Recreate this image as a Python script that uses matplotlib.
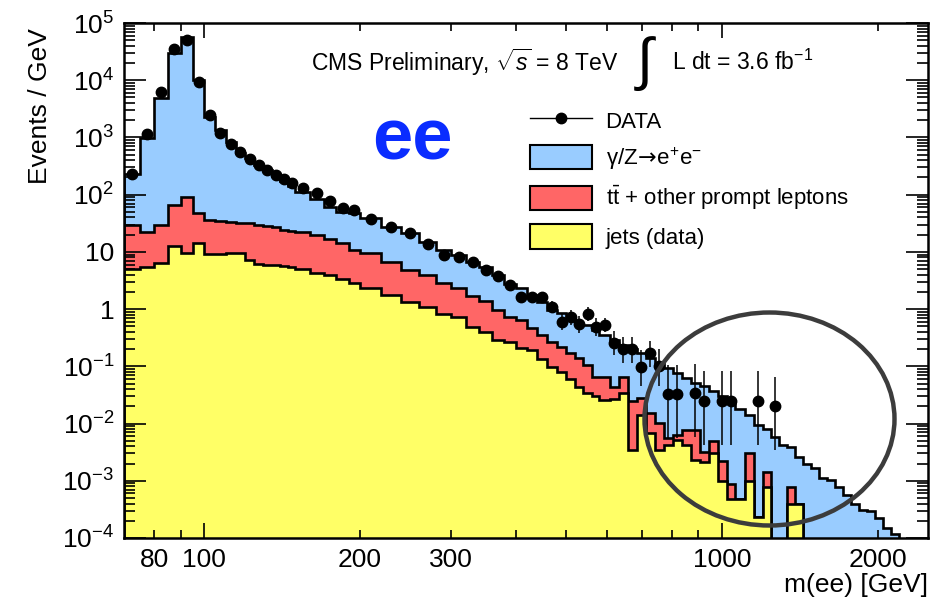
import matplotlib

matplotlib.use("Agg")
import matplotlib.pyplot as plt
import numpy as np
from matplotlib.lines import Line2D
from matplotlib.patches import Ellipse, Patch
from matplotlib.ticker import FixedLocator, FuncFormatter, LogLocator, NullFormatter

plt.rcParams["font.family"] = ["Liberation Sans", "DejaVu Sans"]
plt.rcParams["mathtext.fontset"] = "custom"
plt.rcParams["mathtext.rm"] = "Liberation Sans"
plt.rcParams["mathtext.it"] = "Liberation Sans:italic"
plt.rcParams["mathtext.bf"] = "Liberation Sans:bold"
plt.rcParams["mathtext.sf"] = "DejaVu Sans"

# bin edges, GeV
edges = [70, 75, 80, 85, 90, 95, 100, 105, 110, 115, 120, 125, 130, 135, 140, 145, 150,
         160, 170, 180, 190, 200,
         220, 240, 260, 280, 300, 320, 340, 360, 380, 400, 420, 440, 460, 480, 500,
         520, 540, 560, 580,
         608, 632, 658, 685, 713, 742, 772, 804, 836, 870, 906, 943, 981, 1021, 1062,
         1106, 1151, 1198, 1246, 1291, 1337, 1385, 1435, 1487, 1540, 1596, 1653, 1713,
         1774, 1838, 1904, 1973, 2044, 2117, 2193, 2272, 2354, 2439, 2527]

# stack tops in events/GeV: jets, jets + ttbar, jets + ttbar + DY
jets = [5.1, 5.5, 6.3, 12.5, 9.4, 14.4, 9.2, 9.2, 9.4, 9.6, 7.2, 6.2, 6.0, 5.8, 5.6, 5.4,
        5.0, 4.2, 4.0, 3.3, 2.9,
        2.3, 1.76, 1.34, 1.1, 0.82, 0.73, 0.49, 0.40, 0.287, 0.27, 0.206, 0.19, 0.137, 0.098,
        0.080, 0.061, 0.044, 0.034, 0.030,
        0.026, 0.027, 0.034, 0.0034, 0.014, 0.0069, 0.0034, 0.0043, 0.0051, 0.0043, 0.0023,
        0.0021, 0.0031, 0.0010, 0.00048, 0.00048, 0.001, 0.00023, 0.00078, 0, 0, 0.0004,
        0.0004, 0, 0, 0, 0, 0, 0, 0, 0, 0, 0, 0, 0, 0, 0, 0, 0]
jets_tt = [29.5, 22.3, 29.5, 66, 92, 48, 36, 34, 33, 32.5, 31.6, 29.5, 28, 27, 24.5, 23.5,
           22, 19.5, 17, 14.5, 11,
           9.4, 6.7, 4.9, 3.9, 2.9, 2.3, 1.69, 1.38, 0.96, 0.72, 0.65, 0.46, 0.35, 0.27,
           0.22, 0.168, 0.138, 0.105, 0.066,
           0.066, 0.044, 0.066, 0.025, 0.028, 0.0152, 0.0103, 0.0055, 0.0063, 0.0076, 0.0077,
           0.0032, 0.0049, 0.0022, 0.00088, 0.00048, 0.0031, 0.00023, 0.0014, 0, 0, 0.00078,
           0.0004, 0, 0, 0, 0, 0, 0, 0, 0, 0, 0, 0, 0, 0, 0, 0, 0]
total = [229, 960, 4800, 29500, 57500, 10000, 2300, 1350, 840, 525, 430, 330, 270, 215, 175,
         143, 113, 83, 62, 50, 47,
         38.5, 27.5, 21, 15, 10.8, 8.8, 6.7, 5.5, 3.9, 2.8, 2.3, 1.76, 1.34, 0.96,
         0.84, 0.72, 0.56, 0.52, 0.43,
         0.36, 0.29, 0.24, 0.20, 0.17, 0.14, 0.115, 0.095, 0.078, 0.063, 0.052, 0.045, 0.037,
         0.030, 0.023, 0.018, 0.014, 0.0095, 0.0080, 0.0059, 0.0042, 0.0039, 0.0026, 0.0020,
         0.00164, 0.0011, 0.00105, 0.00078, 0.00056, 0.00039, 0.00031, 0.00030, 0.00022,
         0.000147, 0.000117, 0, 0, 0, 0]

# observed events/GeV per bin (nan = empty bin)
nan = np.nan
data = [230, 1170, 6300, 35000, 50000, 9400, 2460, 1180, 767, 550, 414, 329, 269, 220, 185,
        161, 129, 108, 78, 59, 54,
        37.4, 26.8, 21.6, 13.7, 9.0, 8.0, 6.6, 4.85, 3.8, 2.63, 1.60, 1.64, 1.64, 1.10,
        0.60, 0.72, 0.55, 0.81, 0.49,
        0.53, 0.26, 0.197, 0.197, 0.098, 0.168, 0.10, 0.0327, 0.0327, nan, 0.0336, 0.025,
        nan, 0.025, 0.025, nan, nan, 0.025, nan, 0.020, nan, nan, nan, nan, nan, nan, nan,
        nan, nan, nan, nan, nan, nan, nan, nan, nan, nan, nan, nan]

legend_labels = ["DATA", r"γ/Z$\!\mathsf{\rightarrow}\!$e$^{+}$e$^{-}$",
                 r"$\mathrm{t\bar{t}}$ + other prompt leptons", "jets (data)"]

BLUE = "#99ccff"
RED = "#ff6666"
YELLOW = "#ffff66"


def poisson_band(n):
    # approximate 68% Poisson interval (Wilson-Hilferty)
    lo = n * (1 - 1 / (9 * n) - 1 / (3 * np.sqrt(n))) ** 3
    hi = (n + 1) * (1 - 1 / (9 * (n + 1)) + 1 / (3 * np.sqrt(n + 1))) ** 3
    return lo, hi


def main():
    e = np.array(edges, dtype=float)
    width = np.diff(e)
    centers = 0.5 * (e[:-1] + e[1:])
    floor = 1e-7

    fig = plt.figure(figsize=(9.41, 5.99), dpi=100)
    ax = fig.add_axes([124 / 941, 1 - 538 / 599, 804 / 941, 515 / 599])

    for top, color in [(total, BLUE), (jets_tt, RED), (jets, YELLOW)]:
        vals = np.array(top, dtype=float)
        vals = np.where(vals > 0, vals, floor)
        ax.stairs(vals, e, baseline=floor, fill=True, color=color, lw=0)
        ax.stairs(vals, e, baseline=floor, color="black", lw=1.9)

    d = np.array(data, dtype=float)
    ok = ~np.isnan(d)
    n = np.maximum(np.round(d[ok] * width[ok]), 1)
    lo, hi = poisson_band(n)
    yerr = [d[ok] * (1 - lo / n), d[ok] * (hi / n - 1)]
    ax.errorbar(centers[ok], d[ok], yerr=yerr, fmt="o", color="black", ms=7.5,
                elinewidth=1.1, capsize=0, zorder=5)

    ax.set_xscale("log")
    ax.set_yscale("log")
    ax.set_xlim(70, 2500)
    ax.set_ylim(1e-4, 1e5)

    # x ticks
    ax.xaxis.set_major_locator(FixedLocator([100, 1000]))
    ax.xaxis.set_minor_locator(FixedLocator([80, 90, 200, 300, 400, 500, 600, 700, 800,
                                             900, 2000]))
    ax.xaxis.set_major_formatter(FuncFormatter(lambda v, p: f"{v:g}"))
    ax.xaxis.set_minor_formatter(FuncFormatter(
        lambda v, p: f"{v:g}" if v in (80, 200, 300, 2000) else ""))

    # y ticks
    ax.yaxis.set_major_locator(LogLocator(base=10, numticks=20))
    ax.yaxis.set_minor_locator(LogLocator(base=10, subs=np.arange(2, 10), numticks=20))
    ax.yaxis.set_minor_formatter(NullFormatter())

    def ylab(v, p):
        k = int(round(np.log10(v)))
        if k == 0:
            return "1"
        if k == 1:
            return "10"
        return r"$\mathregular{10^{%d}}$" % k

    ax.yaxis.set_major_formatter(FuncFormatter(ylab))

    ax.tick_params(which="both", direction="in", top=True, right=True, labelsize=19,
                   width=1.2, pad=7)
    ax.tick_params(axis="y", which="major", length=16)
    ax.tick_params(axis="y", which="minor", length=8)
    ax.tick_params(axis="x", which="major", length=11)
    ax.tick_params(axis="x", which="minor", length=6)
    for s in ax.spines.values():
        s.set_linewidth(1.8)

    ax.set_xlabel("m(ee) [GeV]", loc="right", fontsize=19, labelpad=1)
    fig.text(40 / 941, 1 - 106 / 599, "Events / GeV", rotation=90, fontsize=19,
             ha="center", va="center")

    handles = [
        Line2D([], [], color="black", marker="o", ms=7.5, lw=1),
        Patch(facecolor=BLUE, edgecolor="black", lw=1.5),
        Patch(facecolor=RED, edgecolor="black", lw=1.5),
        Patch(facecolor=YELLOW, edgecolor="black", lw=1.5),
    ]
    ax.legend(handles, legend_labels, loc="upper left", bbox_to_anchor=(0.505, 0.834),
              frameon=False, fontsize=16, handlelength=2.8, handleheight=1.3,
              labelspacing=0.55, handletextpad=0.6, borderpad=0, borderaxespad=0)

    fig.text(311 / 941, 1 - 62 / 599, r"CMS Preliminary, $\sqrt{s}$ = 8 TeV",
             fontsize=16.5, va="center")
    fig.text(634 / 941, 1 - 64 / 599, r"$\int$", fontsize=42, va="center")
    fig.text(672 / 941, 1 - 62 / 599, "L dt = 3.6 fb$^{-1}$", fontsize=16.5, va="center")
    fig.text(372 / 941, 1 - 140 / 599, "ee", fontsize=52, weight="bold", color="#0a2cff",
             va="center")

    ring = Ellipse((769.5 / 941, 1 - 419 / 599), 250 / 941, 213 / 599,
                   transform=fig.transFigure, fill=False, edgecolor="#3c3c3c", lw=3.2,
                   zorder=10)
    fig.add_artist(ring)

    fig.savefig("out.png", dpi=100)


if __name__ == "__main__":
    main()
